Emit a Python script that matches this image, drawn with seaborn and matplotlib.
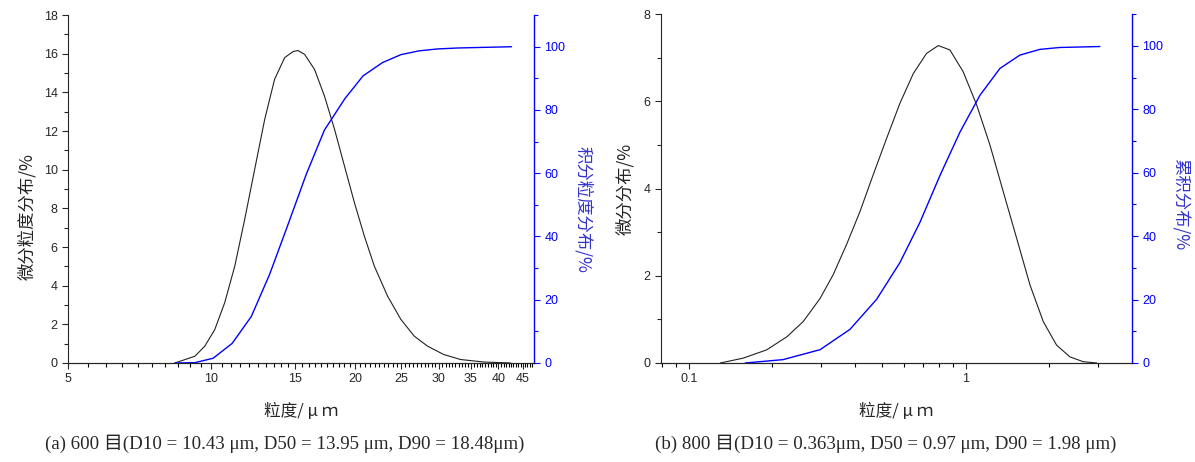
import numpy as np
import pandas as pd
import matplotlib
matplotlib.use('Agg')
import matplotlib.pyplot as plt
import seaborn as sns
from matplotlib.ticker import FixedLocator, FixedFormatter, MultipleLocator, NullFormatter

# ---- data ----
# (a) 600 mesh
a_size = [8.38, 9.23, 9.68, 10.16, 10.66, 11.19, 11.74, 12.32, 12.93, 13.56, 14.24, 14.82,
          15.18, 15.68, 16.45, 17.26, 18.12, 19.01, 19.95, 20.93, 21.96, 23.41, 24.97,
          26.63, 28.4, 30.7, 33.3, 37.3, 42.4]
a_diff = [0.0, 0.35, 0.87, 1.73, 3.12, 5.01, 7.43, 10.02, 12.60, 14.67, 15.80, 16.11,
          16.17, 15.97, 15.19, 13.81, 12.09, 10.19, 8.29, 6.56, 5.01, 3.46, 2.25,
          1.39, 0.87, 0.44, 0.18, 0.05, 0.0]
a_cum_size = [8.38, 9.23, 10.08, 11.05, 12.12, 13.24, 14.45, 15.8, 17.25, 19.05, 20.8,
              22.85, 24.97, 27.26, 29.8, 32.8, 37.3, 42.6]
a_cum = [0.0, 0.1, 1.5, 6.2, 14.7, 28.0, 43.5, 59.6, 73.6, 83.6, 90.8,
         95.0, 97.5, 98.7, 99.3, 99.6, 99.8, 100.0]

# (b) 800 mesh
b_size = [0.130, 0.157, 0.191, 0.226, 0.259, 0.298, 0.332, 0.371, 0.415, 0.463, 0.518,
          0.579, 0.647, 0.722, 0.796, 0.877, 0.979, 1.095, 1.223, 1.366, 1.527, 1.706,
          1.905, 2.128, 2.378, 2.656, 2.97]
b_diff = [0.0, 0.11, 0.30, 0.60, 0.95, 1.48, 2.02, 2.71, 3.47, 4.31, 5.15,
          5.96, 6.64, 7.10, 7.28, 7.18, 6.68, 5.92, 5.00, 3.93, 2.86, 1.79,
          0.95, 0.41, 0.14, 0.03, 0.0]
b_cum_size = [0.16, 0.219, 0.298, 0.382, 0.477, 0.579, 0.683, 0.807, 0.953, 1.125,
              1.329, 1.569, 1.852, 2.187, 3.05]
b_cum = [0.0, 1.06, 4.2, 10.6, 20.1, 31.7, 44.3, 59.1, 72.8, 84.4,
         92.9, 97.1, 98.9, 99.5, 99.8]

a_xticks = [5, 10, 15, 20, 25, 30, 35, 40, 45]
b_xticks = [0.1, 1]
b_minor = [0.08, 0.09, 0.2, 0.3, 0.4, 0.5, 0.6, 0.7, 0.8, 0.9, 2, 3]
caption_a = '(a) 600 目(D10 = 10.43 μm, D50 = 13.95 μm, D90 = 18.48μm)'
caption_b = '(b) 800 目(D10 = 0.363μm, D50 = 0.97 μm, D90 = 1.98 μm)'

sns.set_style('ticks')
plt.rcParams['font.family'] = ['Liberation Sans', 'Noto Sans CJK SC']
plt.rcParams['xtick.direction'] = 'out'
plt.rcParams['ytick.direction'] = 'out'

BLUE = '#0000ff'
cjk = ['Noto Sans CJK SC', 'DejaVu Sans']
serif = ['Liberation Serif', 'Noto Sans CJK SC']

fig = plt.figure(figsize=(11.95, 4.62), dpi=100)


def panel(rect, size, diff, cum_size, cum, ylim, ylab, ylab2, lab1, lab2):
    ax = fig.add_axes(rect)
    ax2 = ax.twinx()
    sns.lineplot(x=size, y=diff, ax=ax, color='#222222', lw=0.8)
    sns.lineplot(x=cum_size, y=cum, ax=ax2, color=BLUE, lw=1.0)
    ax.set_xscale('log')
    ax.set_ylim(*ylim)
    ax2.set_ylim(0, 110)
    ax.yaxis.set_major_locator(MultipleLocator(2))
    ax.yaxis.set_minor_locator(MultipleLocator(1))
    ax2.yaxis.set_major_locator(MultipleLocator(20))
    ax2.yaxis.set_minor_locator(MultipleLocator(10))
    ax.spines['right'].set_visible(False)
    ax2.spines['left'].set_visible(False)
    ax.spines['top'].set_visible(False)
    ax2.spines['top'].set_visible(False)
    ax2.spines['right'].set_color(BLUE)
    ax2.spines['right'].set_linewidth(1.0)
    # label specs: (x, y) in axes fraction
    ax.set_ylabel(ylab, family=cjk, fontsize=12.5, color='#222222', va='center')
    ax.yaxis.set_label_coords(lab1[0], lab1[1])
    ax2.set_ylabel(ylab2, family=cjk, fontsize=12.5, color='#3333cc', rotation=270, va='center')
    ax2.yaxis.set_label_coords(lab2[0], lab2[1])
    ax.set_xlabel('粒度/ μ ｍ', family=cjk, fontsize=12, va='center')
    ax.xaxis.set_label_coords(0.5, -0.14)
    return ax, ax2


def style_ticks(ax, ax2):
    for a in (ax, ax2):
        a.tick_params(which='major', length=4, width=0.8, labelsize=9)
        a.tick_params(which='minor', length=3, width=0.8)
    ax.tick_params(axis='x', which='minor', bottom=True, length=3, width=0.8, color='k')
    ax2.tick_params(axis='y', which='both', colors=BLUE)


ax_a, ax_a2 = panel([0.0569, 0.2143, 0.390, 0.753], a_size, a_diff, a_cum_size, a_cum,
                    (0, 18), '微分粒度分布/%', '积分粒度分布/%',
                    (-0.088, 0.42), (1.105, 0.44))
ax_a.set_xlim(5, 47.5)
ax_a.xaxis.set_major_locator(FixedLocator(a_xticks))
ax_a.xaxis.set_major_formatter(FixedFormatter([str(t) for t in a_xticks]))
ax_a.xaxis.set_minor_locator(FixedLocator(np.arange(5.5, 47.5, 0.5)))
ax_a.xaxis.set_minor_formatter(NullFormatter())
style_ticks(ax_a, ax_a2)

ax_b, ax_b2 = panel([0.5531, 0.2143, 0.3941, 0.755], b_size, b_diff, b_cum_size, b_cum,
                    (0, 8), '微分分布/%', '累积分布/%',
                    (-0.0764, 0.50), (1.102, 0.457))
ax_b.set_xlim(0.0794, 3.98)
ax_b.xaxis.set_major_locator(FixedLocator(b_xticks))
ax_b.xaxis.set_major_formatter(FixedFormatter(['0.1', '1']))
ax_b.xaxis.set_minor_locator(FixedLocator(b_minor))
ax_b.xaxis.set_minor_formatter(NullFormatter())
style_ticks(ax_b, ax_b2)

fig.text(0.2385, 0.040, caption_a, ha='center', va='center', fontsize=13.6, family=serif)
fig.text(0.7415, 0.040, caption_b, ha='center', va='center', fontsize=13.6, family=serif)

fig.savefig('out.png', dpi=100)
